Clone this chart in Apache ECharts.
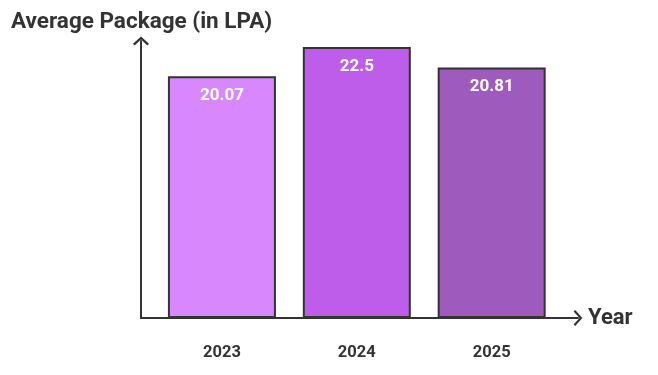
<!DOCTYPE html>
<html>
<head>
<meta charset="utf-8">
<script src="https://cdn.jsdelivr.net/npm/echarts@6/dist/echarts.min.js"></script>
<style>
	html, body { margin: 0; padding: 0; background: #fff; }
	#chart { width: 658px; height: 375px; }
</style>
</head>
<body>
<div id="chart"></div>
<script>
var years = [2023, 2024, 2025];
var packages = [20.07, 22.5, 20.81];
var barColors = ['#d987fc', '#bd5de9', '#9e5abd'];

var chartDom = document.getElementById('chart');
var myChart = echarts.init(chartDom);

var ink = '#333333';
var font = 'Roboto, "Liberation Sans", sans-serif';
// open chevron pointing up, filled as a thin V
var chevron = 'path://M0,9 L10,0 L20,9 L18,11 L10,3.6 L2,11 Z';

var seriesdata = years.map(function (y, i) {
	return {
		value: [y, packages[i]],
		itemStyle: { color: barColors[i] }
	};
});

var option = {
	animation: false,
	title: {
		text: 'Average Package (in LPA)',
		left: 6,
		top: 6,
		textStyle: { fontFamily: font, fontSize: 22.5, fontWeight: 'bold', color: ink }
	},
	grid: { left: 141, right: 80, top: 41, bottom: 57 },
	xAxis: {
		type: 'value',
		min: 2022.4,
		max: 2025.64,
		name: 'Year',
		nameLocation: 'end',
		nameGap: 10,
		nameTextStyle: { fontFamily: font, fontSize: 22, fontWeight: 'bold', color: ink },
		axisLine: {
			show: true,
			symbol: ['none', chevron],
			symbolSize: [16, 9],
			lineStyle: { color: ink, width: 2 }
		},
		axisTick: { show: false },
		splitLine: { show: false },
		axisLabel: {
			customValues: years,
			margin: 26,
			fontFamily: font,
			fontSize: 16.5,
			fontWeight: 'bold',
			color: ink,
			formatter: function (v) { return String(v); }
		}
	},
	yAxis: {
		type: 'value',
		min: 0,
		max: 23,
		axisLine: {
			show: true,
			symbol: ['none', chevron],
			symbolSize: [16, 9],
			lineStyle: { color: ink, width: 2 }
		},
		axisTick: { show: false },
		axisLabel: { show: false },
		splitLine: { show: false }
	},
	series: [
		{
			type: 'bar',
			barWidth: 108,
			data: seriesdata,
			itemStyle: { borderColor: ink, borderWidth: 2 },
			label: {
				show: true,
				position: 'insideTop',
				distance: 11,
				fontFamily: font,
				fontSize: 17,
				fontWeight: 'bold',
				color: '#ffffff',
				formatter: function (p) { return p.value[1]; }
			}
		}
	]
};

myChart.setOption(option);
</script>
</body>
</html>
